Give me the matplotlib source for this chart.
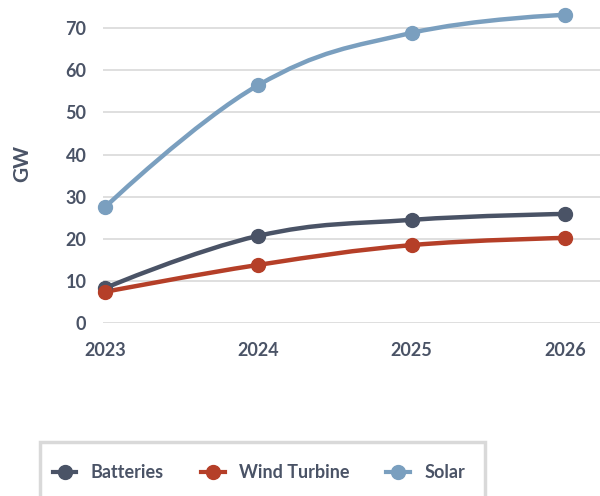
import numpy as np
import matplotlib.pyplot as plt
from matplotlib.path import Path
from matplotlib.patches import PathPatch, Rectangle
from matplotlib.lines import Line2D

years = [2023, 2024, 2025, 2026]
batteries = [8.3, 20.7, 24.5, 25.9]
wind = [7.4, 13.8, 18.5, 20.2]
solar = [27.5, 56.5, 68.9, 73.2]

names = ['Batteries', 'Wind Turbine', 'Solar']
colors = ['#4a5366', '#b53f28', '#7a9fbf']
text_color = '#4a5366'

plt.rcParams['font.family'] = ['Lato', 'DejaVu Sans']
plt.rcParams['font.weight'] = 'bold'
plt.rcParams['axes.labelweight'] = 'bold'


def smooth_path(x, y, smoothing=1.5):
    # spline with control points pulled toward neighbours (endpoints have no tangent)
    x = np.asarray(x, float)
    y = np.asarray(y, float)
    n = len(x)
    left = [(x[0], y[0])]
    right = [(x[0], y[0])]
    for i in range(1, n - 1):
        lx = (smoothing * x[i] + x[i - 1]) / (smoothing + 1)
        ly = (smoothing * y[i] + y[i - 1]) / (smoothing + 1)
        rx = (smoothing * x[i] + x[i + 1]) / (smoothing + 1)
        ry = (smoothing * y[i] + y[i + 1]) / (smoothing + 1)
        corr = (ry - ly) * (rx - x[i]) / (rx - lx) + y[i] - ry
        ly += corr
        ry += corr
        if ly > max(y[i - 1], y[i]):
            ly = max(y[i - 1], y[i])
            ry = 2 * y[i] - ly
        elif ly < min(y[i - 1], y[i]):
            ly = min(y[i - 1], y[i])
            ry = 2 * y[i] - ly
        if ry > max(y[i + 1], y[i]):
            ry = max(y[i + 1], y[i])
            ly = 2 * y[i] - ry
        elif ry < min(y[i + 1], y[i]):
            ry = min(y[i + 1], y[i])
            ly = 2 * y[i] - ry
        left.append((lx, ly))
        right.append((rx, ry))
    left.append((x[-1], y[-1]))
    verts = [(x[0], y[0])]
    codes = [Path.MOVETO]
    for i in range(1, n):
        verts += [right[i - 1], left[i], (x[i], y[i])]
        codes += [Path.CURVE4] * 3
    return Path(verts, codes)


fig = plt.figure(figsize=(6, 4.96), dpi=100)
ax = fig.add_axes([103 / 600, 1 - 323 / 496, 497 / 600, 320 / 496])

for series, c in zip([batteries, wind, solar], colors):
    ax.add_patch(PathPatch(smooth_path(years, series), fill=False, edgecolor=c,
                           lw=3.2, capstyle='round', joinstyle='round', zorder=3))
    ax.plot(years, series, 'o', color=c, markersize=10, zorder=4, clip_on=False)

ax.set_xlim(2022.987, 2026.228)
ax.set_ylim(0, 76)
ax.set_yticks(range(0, 71, 10))
ax.set_xticks(years)
ax.grid(axis='y', color='#d9d9d9', lw=1.2)
ax.set_axisbelow(True)
for s in ax.spines.values():
    s.set_visible(False)
ax.tick_params(length=0, labelsize=13, colors=text_color, pad=12)
ax.tick_params(axis='x', pad=14)
ax.set_ylabel('GW', fontsize=15, color=text_color, labelpad=24)

# legend box runs off the bottom edge
fig.patches.append(Rectangle((40 / 600, -0.05), 445 / 600, (496 - 442) / 496 + 0.05,
                             transform=fig.transFigure, fill=False,
                             edgecolor='#d9d9d9', lw=2.5))
handles = [Line2D([], [], color=c, lw=3, marker='o', markersize=10) for c in colors]
leg = fig.legend(handles, names, loc='center left', bbox_to_anchor=(53 / 600, 1 - 473 / 496),
                 ncol=3, fontsize=13, frameon=False,
                 handlelength=1.3, handletextpad=0.8, columnspacing=2.05,
                 borderpad=0, borderaxespad=0)
for t in leg.get_texts():
    t.set_color(text_color)

fig.savefig('out.png', dpi=100)
